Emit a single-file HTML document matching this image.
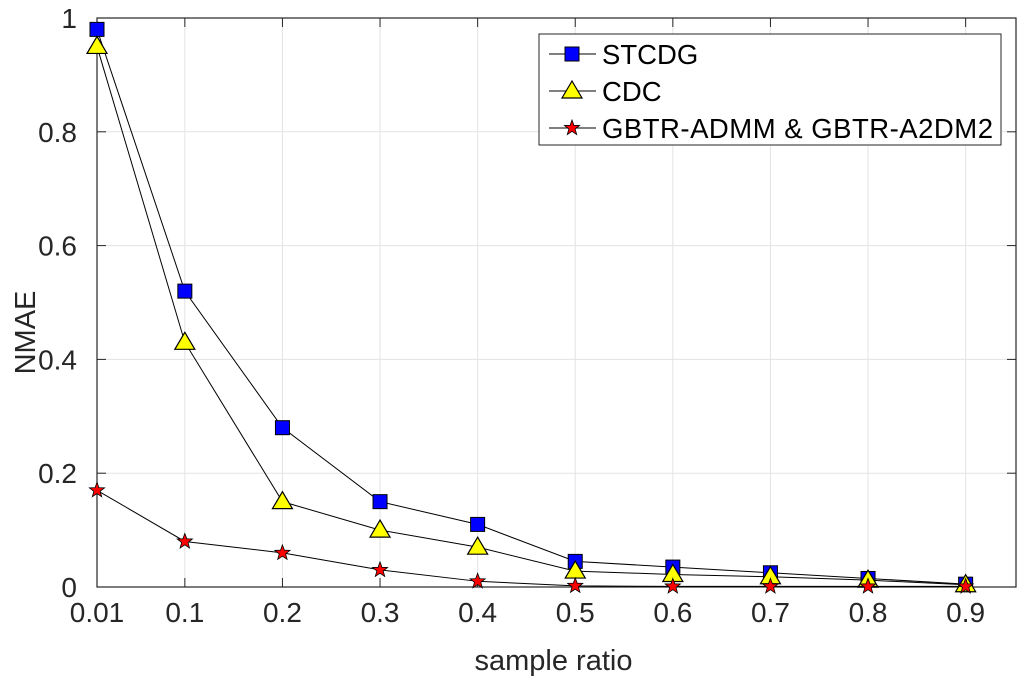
<!DOCTYPE html>
<html><head><meta charset="utf-8"><style>
html,body{margin:0;padding:0;background:#fff;}
svg{display:block;font-family:"Liberation Sans",Arial,sans-serif;}
</style></head><body>
<svg id="chart" width="1024" height="682" viewBox="0 0 1024 682" xmlns="http://www.w3.org/2000/svg"></svg>
<script>
const xTicks=[0.01,0.1,0.2,0.3,0.4,0.5,0.6,0.7,0.8,0.9];
const xTickLabels=["0.01","0.1","0.2","0.3","0.4","0.5","0.6","0.7","0.8","0.9"];
const yTicks=[0,0.2,0.4,0.6,0.8,1];
const yTickLabels=["0","0.2","0.4","0.6","0.8","1"];
const sampleRatios=[0.01,0.1,0.2,0.3,0.4,0.5,0.6,0.7,0.8,0.9];
const stcdg=[0.98,0.52,0.28,0.15,0.11,0.045,0.035,0.025,0.015,0.005];
const cdc=[0.95,0.43,0.15,0.10,0.07,0.028,0.022,0.018,0.012,0.004];
const gbtr=[0.17,0.08,0.06,0.03,0.01,0.002,0.001,0.001,0.001,0.001];

const L=97,R=1016,T=18,B=587,xMin=0.01,xMax=0.9516,yMin=0,yMax=1;
const sx=v=>L+(v-xMin)/(xMax-xMin)*(R-L);
const sy=v=>B-(v-yMin)/(yMax-yMin)*(B-T);
const svg=document.getElementById('chart');
const NS="http://www.w3.org/2000/svg";
function mk(tag,attrs,parent){const e=document.createElementNS(NS,tag);for(const k in attrs)e.setAttribute(k,attrs[k]);(parent||svg).appendChild(e);return e;}

const grid=mk('g',{});


xTicks.forEach(v=>{mk('line',{x1:sx(v),x2:sx(v),y1:T,y2:B,stroke:'#e3e3e3','stroke-width':1},grid);});
yTicks.forEach(v=>{mk('line',{x1:L,x2:R,y1:sy(v),y2:sy(v),stroke:'#e3e3e3','stroke-width':1},grid);});

const box=mk('rect',{x:L,y:T,width:R-L,height:B-T,fill:'none',stroke:'#262626','stroke-width':1.2});



const xt=mk('g',{});


xTicks.forEach((v,i)=>{
  mk('line',{x1:sx(v),x2:sx(v),y1:B,y2:B-9,stroke:'#262626'},xt);
  mk('line',{x1:sx(v),x2:sx(v),y1:T,y2:T+9,stroke:'#262626'},xt);
  const t=mk('text',{x:sx(v),y:B+35,'text-anchor':'middle','font-size':28,fill:'#262626'},xt);
  t.textContent=xTickLabels[i];
  
  
});
const yt=mk('g',{});


yTicks.forEach((v,i)=>{
  mk('line',{x1:L,x2:L+9,y1:sy(v),y2:sy(v),stroke:'#262626'},yt);
  mk('line',{x1:R,x2:R-9,y1:sy(v),y2:sy(v),stroke:'#262626'},yt);
  const t=mk('text',{x:L-20,y:sy(v)+10,'text-anchor':'end','font-size':28,fill:'#262626'},yt);
  t.textContent=yTickLabels[i];
  
  
});
const xl=mk('text',{x:(L+R)/2-3,y:670,'text-anchor':'middle','font-size':29,fill:'#262626'});
xl.textContent='sample ratio';


const yl=mk('text',{x:0,y:0,'text-anchor':'middle','font-size':29,fill:'#262626',transform:`translate(35,${(T+B)/2+30}) rotate(-90)`});
yl.textContent='NMAE';



function square(g,x,y){mk('rect',{x:x-7,y:y-7,width:14,height:14,fill:'#0000ff',stroke:'#000','stroke-width':1},g);}
function tri(g,x,y){mk('polygon',{points:`${x},${y-10} ${x+10},${y+7} ${x-10},${y+7}`,fill:'#ffff00',stroke:'#000','stroke-width':1.2},g);}
function star(g,x,y){let p=[];for(let i=0;i<10;i++){const r=i%2?3.3:8,a=-Math.PI/2+i*Math.PI/5;p.push((x+r*Math.cos(a)).toFixed(1)+','+(y+r*Math.sin(a)).toFixed(1));}
  mk('polygon',{points:p.join(' '),fill:'#ff0000',stroke:'#000','stroke-width':0.8},g);}

function series(name,vals,marker){
  const g=mk('g',{});
  
  
  mk('polyline',{points:vals.map((v,i)=>sx(sampleRatios[i])+','+sy(v)).join(' '),fill:'none',stroke:'#000','stroke-width':1},g);
  vals.forEach((v,i)=>marker(g,sx(sampleRatios[i]),sy(v)));
}
series('series-stcdg',stcdg,square);
series('series-cdc',cdc,tri);
series('series-gbtr',gbtr,star);

const lg=mk('g',{});


mk('rect',{x:539,y:34,width:462,height:111,fill:'#fff',stroke:'#262626','stroke-width':1},lg);
const names=['STCDG','CDC','GBTR-ADMM & GBTR-A2DM2'];
const marks=[square,tri,star];
const ys=[54,91,128];
names.forEach((n,i)=>{
  const e=mk('g',{},lg);
  
  
  mk('line',{x1:549,x2:596,y1:ys[i],y2:ys[i],stroke:'#000'},e);
  marks[i](e,572,ys[i]);
  const t=mk('text',{x:602,y:ys[i]+10,'font-size':27.5,fill:'#000',textLength:n.length>10?391:null},e);
  if(n.length>10){t.setAttribute('textLength','391');}else{t.removeAttribute('textLength');}
  t.textContent=n;
});
</script>
</body></html>
